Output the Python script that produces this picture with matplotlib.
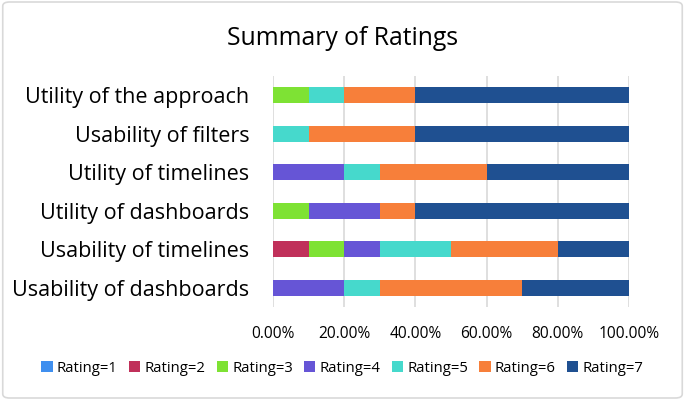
import matplotlib.pyplot as plt
from matplotlib.patches import FancyBboxPatch
from matplotlib.ticker import FuncFormatter

plt.rcParams['font.family'] = ['Open Sans', 'DejaVu Sans']

categories = ['Usability of dashboards', 'Usability of timelines', 'Utility of dashboards',
              'Utility of timelines', 'Usability of filters', 'Utility of the approach']
series_names = ['Rating=1', 'Rating=2', 'Rating=3', 'Rating=4', 'Rating=5', 'Rating=6', 'Rating=7']
rating_1 = [0, 0, 0, 0, 0, 0]
rating_2 = [0, 10, 0, 0, 0, 0]
rating_3 = [0, 10, 10, 0, 0, 10]
rating_4 = [20, 10, 20, 20, 0, 0]
rating_5 = [10, 20, 0, 10, 10, 10]
rating_6 = [40, 30, 10, 30, 30, 20]
rating_7 = [30, 20, 60, 40, 60, 60]
colors = ['#3f8fef', '#c0305a', '#7ee234', '#6655d6', '#46d9cc', '#f77f3a', '#1f5091']

series = [rating_1, rating_2, rating_3, rating_4, rating_5, rating_6, rating_7]

fig = plt.figure(figsize=(6.85, 4.0), dpi=100)
ax = fig.add_axes([0.3985, 0.2325, 0.5197, 0.5775])

left = [0] * len(categories)
for name, vals, col in zip(series_names, series, colors):
    ax.barh(categories, vals, left=left, height=0.42, color=col, label=name, zorder=3)
    left = [a + b for a, b in zip(left, vals)]

ax.set_xlim(0, 100)
ax.set_ylim(-0.5, len(categories) - 0.5)
ax.set_xticks(range(0, 101, 20))
ax.xaxis.set_major_formatter(FuncFormatter(lambda v, p: f'{v:.2f}%'))
ax.grid(axis='x', color='#d9d9d9', linewidth=1.2, zorder=0)
for s in ax.spines.values():
    s.set_visible(False)
ax.tick_params(axis='both', length=0)
ax.tick_params(axis='x', labelsize=11.2, pad=14)
ax.tick_params(axis='y', labelsize=15.5, pad=17)

fig.suptitle('Summary of Ratings', fontsize=17.8, y=0.935)

handles, labels = ax.get_legend_handles_labels()
fig.legend(handles, labels, loc='center', bbox_to_anchor=(0.5, 0.08), ncol=7,
           frameon=False, fontsize=10.7, handlelength=0.75, handleheight=0.75,
           handletextpad=0.3, columnspacing=0.75)

border = FancyBboxPatch((0.004, 0.005), 0.992, 0.99, boxstyle='round,pad=0,rounding_size=0.01',
                        transform=fig.transFigure, fill=False, edgecolor='#d9d9d9', linewidth=1.2)
fig.patches.append(border)

fig.savefig('out.png', dpi=100)
